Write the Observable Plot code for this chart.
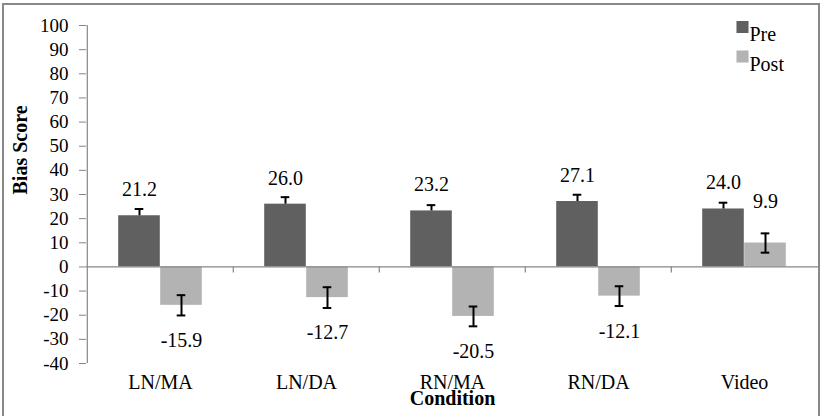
<!DOCTYPE html>
<html><head><meta charset="utf-8">
<script src="https://cdn.jsdelivr.net/npm/d3@7"></script>
<script src="https://cdn.jsdelivr.net/npm/@observablehq/plot@0.6"></script>
<style>
body{margin:0;background:#fff;}
#wrap{position:relative;width:822px;height:416px;overflow:hidden;background:#fff;}
#border{position:absolute;left:1.5px;top:3px;width:818px;height:430px;border:2px solid #888;box-sizing:border-box;pointer-events:none;}
svg{display:block;}
</style></head><body>
<div id="wrap"><div id="chart"></div><div id="border"></div></div>
<script>
const conditions = ["LN/MA", "LN/DA", "RN/MA", "RN/DA", "Video"];
const seriesNames = ["Pre", "Post"];
const preValues = [21.2, 26.0, 23.2, 27.1, 24.0];
const postValues = [-15.9, -12.7, -20.5, -12.1, 9.9];
const preErrors = [2.8, 2.9, 2.4, 2.8, 2.6];
const postErrors = [4.2, 4.3, 4.1, 4.1, 4.0];
const yTicks = [-40, -30, -20, -10, 0, 10, 20, 30, 40, 50, 60, 70, 80, 90, 100];
const yLabel = "Bias Score";
const xLabel = "Condition";

const preColor = "#606060";
const postColor = "#b3b3b3";
const axisGray = "#868686";

const W = 822, H = 416, mL = 86, mR = 4, mT = 25, mB = 53;
const bw = (W - mL - mR) / conditions.length;
const barW = 42;
const capHalf = 4.5;

const preRows = conditions.map((c, i) => ({condition: c, value: preValues[i], err: preErrors[i]}));
const postRows = conditions.map((c, i) => ({condition: c, value: postValues[i], err: postErrors[i]}));

const font = "Liberation Serif";

const chart = Plot.plot({
  width: W, height: H,
  marginLeft: mL, marginRight: mR, marginTop: mT, marginBottom: mB,
  style: {fontFamily: font},
  x: {type: "band", domain: conditions, padding: 0},
  y: {domain: [-40, 100]},
  marks: [
    Plot.barY(preRows, {x: "condition", y: "value", fill: preColor, insetLeft: bw / 2 - barW, insetRight: bw / 2}),
    Plot.barY(postRows, {x: "condition", y: "value", fill: postColor, insetLeft: bw / 2, insetRight: bw / 2 - barW}),
    Plot.ruleY([0], {stroke: axisGray, strokeWidth: 1.2}),
    Plot.ruleX(conditions.slice(1), {x: d => d, dx: -bw / 2, y1: 0, y2: 0, insetBottom: -6, stroke: axisGray, strokeWidth: 1.2}),
    Plot.ruleX([conditions[0]], {x: d => d, dx: -bw / 2, y1: -40, y2: 100, stroke: axisGray, strokeWidth: 1.2}),
    // Pre error bars (upper half only, as in the reference)
    Plot.ruleX(preRows, {x: "condition", y1: "value", y2: d => d.value + d.err, dx: -barW / 2, stroke: "black", strokeWidth: 2}),
    Plot.tickY(preRows, {x: "condition", y: d => d.value + d.err, insetLeft: bw / 2 - barW / 2 - capHalf, insetRight: bw / 2 + barW / 2 - capHalf, stroke: "black", strokeWidth: 2}),
    // Post error bars
    Plot.ruleX(postRows, {x: "condition", y1: d => d.value - d.err, y2: d => d.value + d.err, dx: barW / 2, stroke: "black", strokeWidth: 2}),
    Plot.tickY(postRows, {x: "condition", y: d => d.value + d.err, insetLeft: bw / 2 + barW / 2 - capHalf, insetRight: bw / 2 - barW / 2 - capHalf, stroke: "black", strokeWidth: 2}),
    Plot.tickY(postRows, {x: "condition", y: d => d.value - d.err, insetLeft: bw / 2 + barW / 2 - capHalf, insetRight: bw / 2 - barW / 2 - capHalf, stroke: "black", strokeWidth: 2}),
    // value labels
    Plot.text(preRows, {x: "condition", y: "value", text: d => d.value.toFixed(1), dx: -barW / 2, dy: -26, fontSize: 20, fontFamily: font}),
    Plot.text(postRows.filter(d => d.value < 0), {x: "condition", y: "value", text: d => d.value.toFixed(1), dx: barW / 2, dy: 35, fontSize: 20, fontFamily: font}),
    Plot.text(postRows.filter(d => d.value >= 0), {x: "condition", y: "value", text: d => d.value.toFixed(1), dx: barW / 2, dy: -41, fontSize: 20, fontFamily: font}),
    // axes
    Plot.axisY(yTicks, {tickSize: 7, tickPadding: 11, fontSize: 19, fontFamily: font, stroke: axisGray, tickFormat: d => String(d), label: null}),
    Plot.axisX({anchor: "bottom", tickSize: 0, tickPadding: 11, fontSize: 20, fontFamily: font, label: null}),
    Plot.text([yLabel], {frameAnchor: "left", rotate: -90, dx: -66, fontWeight: "bold", fontSize: 20, fontFamily: font}),
    Plot.text([xLabel], {frameAnchor: "bottom", dy: 41, fontWeight: "bold", fontSize: 20, fontFamily: font}),
    // legend
    Plot.dot([seriesNames[0]], {frameAnchor: "top-right", dx: -76, dy: 1.5, symbol: "square", r: 6.8, fill: preColor}),
    Plot.text([seriesNames[0]], {frameAnchor: "top-right", dx: -69, dy: 1.5, textAnchor: "start", fontSize: 20, fontFamily: font}),
    Plot.dot([seriesNames[1]], {frameAnchor: "top-right", dx: -76, dy: 31, symbol: "square", r: 6.8, fill: postColor}),
    Plot.text([seriesNames[1]], {frameAnchor: "top-right", dx: -69, dy: 31, textAnchor: "start", fontSize: 20, fontFamily: font})
  ]
});
document.getElementById("chart").appendChild(chart);
</script>
</body></html>
